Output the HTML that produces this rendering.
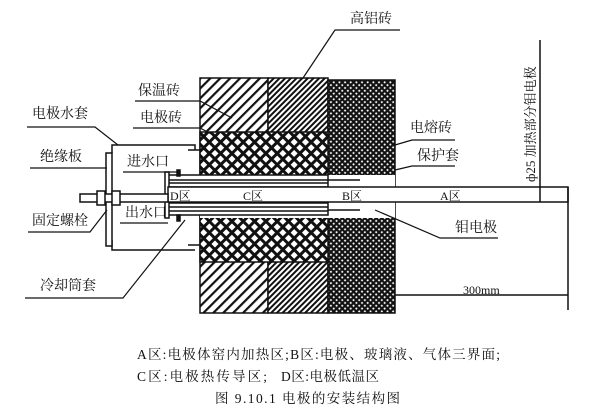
<!DOCTYPE html>
<html><head><meta charset="utf-8"><style>
body{margin:0;background:#fff}
svg{display:block}
text{font-family:"Liberation Serif","Noto Serif CJK SC","Noto Sans CJK SC",serif;fill:#111}
</style></head><body>
<svg width="602" height="413" viewBox="0 0 602 413" xmlns="http://www.w3.org/2000/svg">
<defs>
<pattern id="diag" width="7" height="7" patternUnits="userSpaceOnUse" patternTransform="rotate(45)">
<rect width="7" height="7" fill="#fff"/><rect width="2.2" height="7" fill="#111"/></pattern>
<pattern id="diag2" width="4" height="4" patternUnits="userSpaceOnUse" patternTransform="rotate(45)">
<rect width="4" height="4" fill="#fff"/><rect width="2" height="4" fill="#111"/></pattern>
<pattern id="cross" width="8" height="8" patternUnits="userSpaceOnUse" patternTransform="rotate(45)">
<rect width="8" height="8" fill="#111"/><rect x="2" y="2" width="5" height="5" fill="#fff"/></pattern>
<pattern id="dense" width="4" height="4" patternUnits="userSpaceOnUse" patternTransform="rotate(45)">
<rect width="4" height="4" fill="#111"/><rect x="1.3" y="1.3" width="1.8" height="1.8" fill="#fff"/></pattern>
</defs>
<g stroke="#111" stroke-width="1.5">
<rect x="200" y="78" width="68" height="235" fill="url(#diag)"/>
<rect x="268" y="78" width="60" height="235" fill="url(#diag2)"/>
<rect x="328" y="80" width="67" height="233" fill="url(#dense)"/>
<rect x="200" y="132" width="128" height="130" fill="url(#cross)"/>
<rect x="200" y="175" width="195" height="43" fill="#fff" stroke="none"/>
<rect x="168" y="175" width="160" height="12" fill="#fff"/>
<line x1="168" y1="180" x2="328" y2="180"/><line x1="168" y1="183" x2="328" y2="183"/>
<rect x="168" y="203" width="160" height="12" fill="#fff"/>
<line x1="168" y1="207" x2="328" y2="207"/><line x1="168" y1="211" x2="328" y2="211"/>
<rect x="165" y="172" width="4" height="46" fill="#fff"/>
<rect x="177" y="170" width="3" height="6" fill="#111"/>
<rect x="177" y="215" width="3" height="6" fill="#111"/>
<rect x="168" y="187" width="400" height="15" fill="#fff"/>
<line x1="328" y1="180" x2="360" y2="180"/><line x1="328" y1="210" x2="360" y2="210"/>
<polyline points="195,150 195,145 112,145 112,153" fill="none"/>
<polyline points="195,250 112,250 112,240" fill="none"/>
<line x1="188" y1="150" x2="200" y2="150"/><line x1="188" y1="245" x2="200" y2="245"/>
<rect x="106" y="153" width="6" height="93" fill="#fff"/>
<rect x="80" y="194" width="88" height="8" fill="#fff"/>
<rect x="97" y="191" width="8" height="14" fill="#fff"/>
<rect x="112" y="191" width="8" height="14" fill="#fff"/>
<line x1="540" y1="40" x2="540" y2="202"/>
<line x1="568" y1="187" x2="568" y2="310"/>
<line x1="395" y1="295" x2="568" y2="295"/>
</g>
<g stroke="#111" stroke-width="1.2" fill="none">
<polyline points="400,30 335,30 303,78"/>
<polyline points="455,140 412,140 395,145"/>
<polyline points="455,166 412,166 395,170"/>
<polyline points="498,238 440,238 375,210"/>
<polyline points="135,101 200,101 232,118"/>
<polyline points="133,128 200,128 215,136"/>
<polyline points="27,127 95,127 118,145"/>
<polyline points="30,168 107,168"/>
<polyline points="123,172 178,172"/>
<polyline points="28,232 90,232 107,210"/>
<polyline points="120,223 168,223"/>
<polyline points="25,298 123,298 185,220"/>
</g>
<g font-size="14">
<text x="350" y="23">高铝砖</text>
<text x="410" y="132">电熔砖</text>
<text x="417" y="160">保护套</text>
<text x="455" y="232">钼电极</text>
<text x="138" y="95">保温砖</text>
<text x="140" y="122">电极砖</text>
<text x="32" y="118">电极水套</text>
<text x="40" y="161">绝缘板</text>
<text x="127" y="166">进水口</text>
<text x="32" y="225">固定螺栓</text>
<text x="125" y="217">出水口</text>
<text x="40" y="290">冷却筒套</text>
<text x="170" y="200" font-size="12">D区</text>
<text x="243" y="200" font-size="12">C区</text>
<text x="342" y="200" font-size="12">B区</text>
<text x="440" y="200" font-size="12">A区</text>
<text x="463" y="294" font-size="12">300mm</text>
<text transform="translate(535,182) rotate(-90)" font-size="13">ф25 加热部分钼电极</text>
<text x="137" y="359" font-size="13.5" textLength="363" lengthAdjust="spacing">A区:电极体窑内加热区;B区:电极、玻璃液、气体三界面;</text>
<text x="137" y="381" font-size="13.5" textLength="130" lengthAdjust="spacing">C区:电极热传导区;</text>
<text x="281" y="381" font-size="13.5" textLength="98" lengthAdjust="spacing">D区:电极低温区</text>
<text x="215" y="403" font-size="13.5" textLength="185" lengthAdjust="spacing">图 9.10.1   电极的安装结构图</text>
</g>
</svg>
</body></html>
